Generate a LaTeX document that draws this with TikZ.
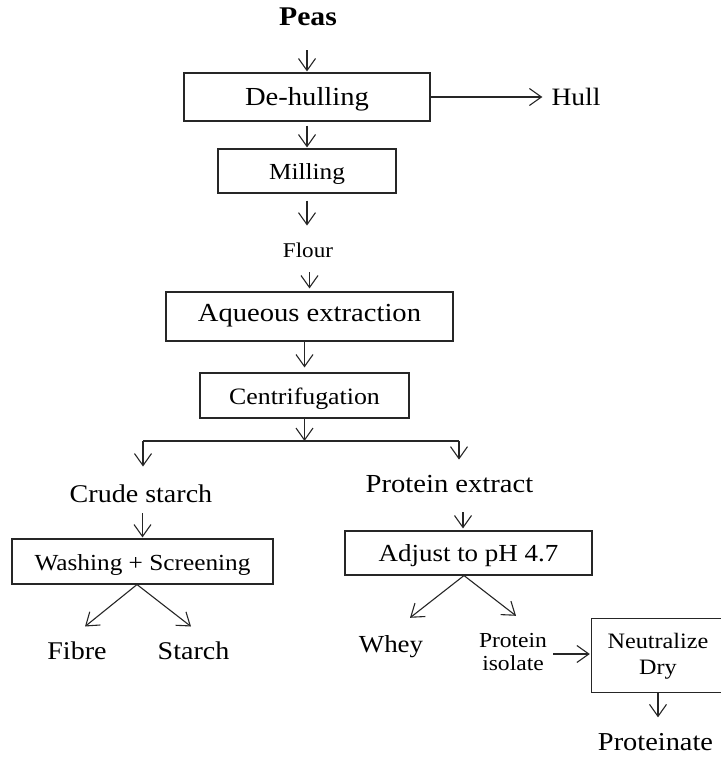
\documentclass[tikz,border=0pt]{standalone}
\usepackage{fontspec}
\setmainfont{Liberation Serif}[FakeStretch=1.1]
\usetikzlibrary{arrows.meta}
\newcommand{\fsz}[2]{\fontsize{#1pt}{#2pt}\selectfont}
\tikzset{
  ln/.style={line width=1.1pt, draw=black!85},
  arr/.style={ln, -{Straight Barb[length=12pt,width=17pt]}},
  pbox/.style={draw=black!85, line width=1.1pt, inner sep=0pt, text depth=0pt},
  lbl/.style={inner sep=1pt, anchor=base},
}
\begin{document}
\begin{tikzpicture}[x=1pt,y=-1pt]
\useasboundingbox (0,0) rectangle (720,757);
% nodes
\node[lbl, font=\fsz{27}{31}\bfseries] (peas) at (308,26) {Peas};
\node[pbox, minimum width=246pt, minimum height=48pt, text height=18pt, font=\fsz{26}{30}] (dehull) at (307,97) {De-hulling};
\node[lbl, font=\fsz{25}{29}] (hull) at (576,106) {Hull};
\node[pbox, minimum width=178pt, minimum height=44pt, text height=16pt, font=\fsz{23}{27}] (mill) at (307,171) {Milling};
\node[lbl, font=\fsz{21}{25}] (flour) at (308,257) {Flour};
\node[pbox, minimum width=287pt, minimum height=49pt, text height=10pt, font=\fsz{26}{30}] (aq) at (309.5,316.5) {Aqueous extraction};
\node[pbox, minimum width=209pt, minimum height=45pt, text height=17pt, font=\fsz{23.5}{27}] (cent) at (304.5,395.5) {Centrifugation};
\coordinate (barL) at (143,441);
\coordinate (barR) at (459,441);
\node[lbl, font=\fsz{25.5}{29}] (crude) at (141,502) {Crude starch};
\node[lbl, font=\fsz{26}{30}] (protext) at (449.5,492) {Protein extract};
\node[pbox, minimum width=261pt, minimum height=45pt, text height=17pt, font=\fsz{23}{27}] (wash) at (142.5,561.5) {Washing + Screening};
\node[pbox, minimum width=247pt, minimum height=44pt, text height=16pt, font=\fsz{24.5}{28}] (adj) at (468.5,553) {Adjust to pH 4.7};
\node[lbl, font=\fsz{25.5}{29}] (fibre) at (77,659) {Fibre};
\node[lbl, font=\fsz{25.5}{29}] (starch) at (193.5,659) {Starch};
\node[lbl, font=\fsz{24.5}{28}] (whey) at (391,652) {Whey};
\node[inner sep=1pt, font=\fsz{21.4}{23}] (piso) at (513,654) {\begin{tabular}{@{}c@{}}Protein\\isolate\end{tabular}};
\node[inner sep=0pt, minimum width=132pt, minimum height=73pt, font=\fsz{22}{26}] (neut) at (658,656.5) {\begin{tabular}{@{}c@{}}Neutralize\\Dry\end{tabular}};
\draw[ln] ([shift={(20,-1)}]neut.north east) -- ([shift={(0,-1)}]neut.north west) -- ([shift={(0,-1)}]neut.south west) -- ([shift={(20,-1)}]neut.south east);
\node[lbl, font=\fsz{25.8}{30}] (prot) at (655.5,750) {Proteinate};
% connectors
\draw[arr, shorten <=23pt, shorten >=1pt] (dehull.north |- peas.south) -- (dehull.north);
\draw[arr, shorten >=8pt] (dehull.east) -- (dehull.east -| hull.west);
\draw[arr, shorten <=4pt, shorten >=1pt] (dehull.south) -- (mill.north);
\draw[arr, shorten <=7pt, shorten >=15.7pt] (mill.south) -- (mill.south |- flour.north);
\draw[arr, shorten <=14pt, shorten >=3pt] (aq.north |- flour.south) -- (aq.north);
\draw[arr, shorten >=5pt] (cent.north |- aq.south) -- (cent.north);
\draw[arr] (cent.south) -- (cent.south |- barL);
\draw[ln] (barL) -- (barR);
\draw[arr, shorten >=16.6pt] (barL) -- (barL |- crude.north);
\draw[arr, shorten >=14pt] (barR) -- (barR |- protext.north);
\draw[arr, shorten <=10pt, shorten >=1pt] (wash.north |- crude.south) -- (wash.north);
\draw[arr, shorten <=19pt, shorten >=2pt] ([xshift=-5.5pt]adj.north |- protext.south) -- ([xshift=-5.5pt]adj.north);
\draw[arr] ([xshift=-5.5pt]wash.south) -- ([shift={(8,-13.6)}]fibre.north);
\draw[arr] ([xshift=-5.5pt]wash.south) -- ([shift={(-2.5,-13.6)}]starch.north);
\draw[arr] ([xshift=-4.5pt]adj.south) -- ([shift={(19,-16)}]whey.north);
\draw[arr] ([xshift=-4.5pt]adj.south) -- ([shift={(3,-14)}]piso.north);
\draw[arr, shorten <=5pt, shorten >=2pt] (piso.east) -- (piso.east -| neut.west);
\draw[arr, shorten >=14.4pt] ([shift={(0,-1)}]neut.south) -- (neut.south |- prot.north);
\end{tikzpicture}
\end{document}
